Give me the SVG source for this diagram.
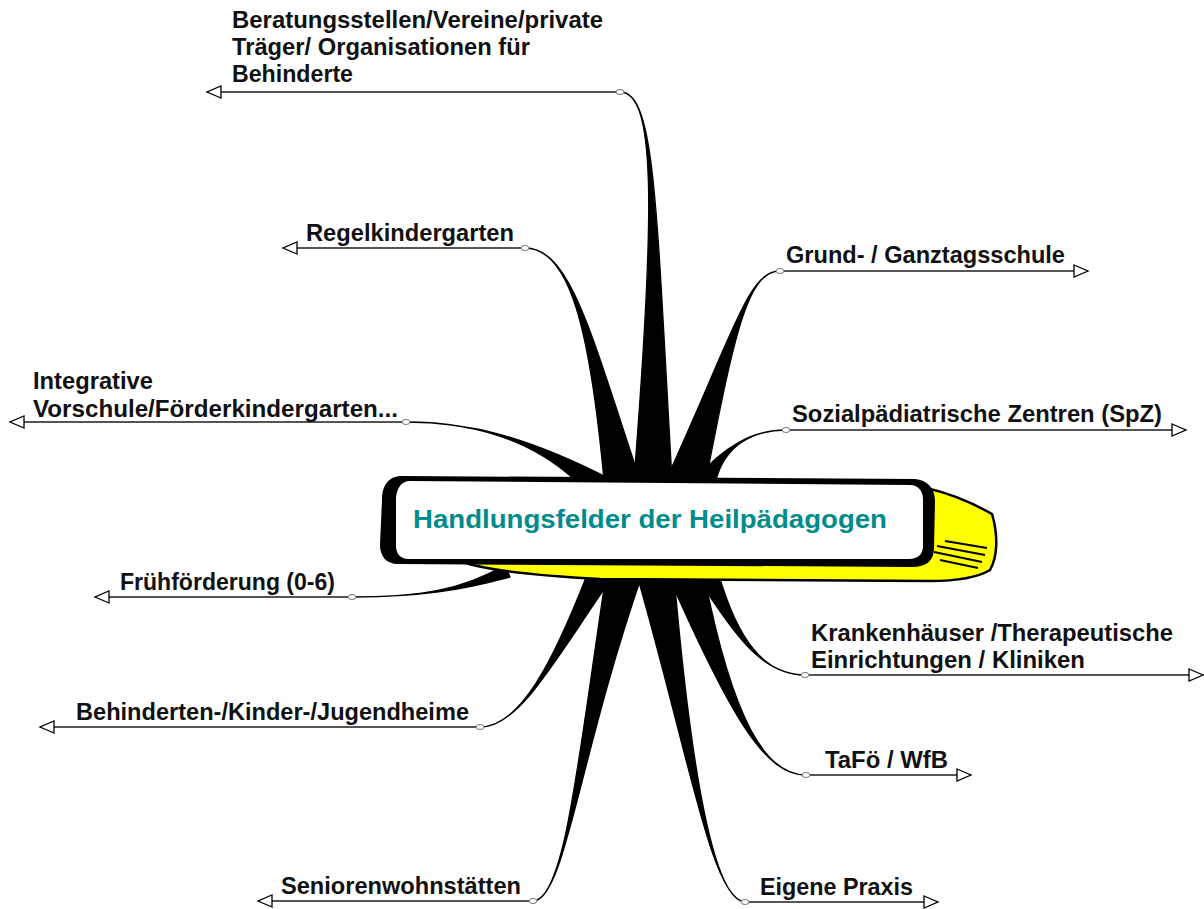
<svg xmlns="http://www.w3.org/2000/svg" width="1204" height="909" viewBox="0 0 1204 909">
<style>
.lbl{font-family:"Liberation Sans",Arial,sans-serif;font-size:23px;font-weight:bold;fill:#111}
.spoke{fill:#000;stroke:#000;stroke-width:1.3;stroke-linejoin:round}
.ln{stroke:#555;stroke-width:2;fill:none;marker-end:url(#arr)}
.anc{fill:#fff;stroke:#777;stroke-width:1}
.title{font-family:"Liberation Sans",Arial,sans-serif;font-size:26px;font-weight:bold;fill:#008c8c}
</style>
<defs>
<marker id="arr" markerUnits="userSpaceOnUse" markerWidth="18" markerHeight="16" refX="15" refY="7" orient="auto">
<path d="M1,1 L15,7 L1,13 Z" fill="#fff" stroke="#000" stroke-width="1.3"/>
</marker>
</defs>
<rect width="1204" height="909" fill="#fff"/>
<g id="connectors">
<path class="spoke" d="M620 92 C655 92 656 200 634 480 L672 480 C656 200 655 92 620 92 Z"/>
<path class="spoke" d="M525 248 C570 248 590 330 604 480 L640 480 C590 330 570 248 525 248 Z"/>
<path class="spoke" d="M406 422 C470 422 528 437 612 480 L575 480 C528 437 470 422 406 422 Z"/>
<path class="spoke" d="M352 597 C420 597 462 590 505 565 L510 577 C462 590 420 597 352 597 Z"/>
<path class="spoke" d="M480 727 C520 727 553 662 587 575 L614 575 C553 662 520 727 480 727 Z"/>
<path class="spoke" d="M533 901 C565 900 578 760 606 575 L642 575 C578 760 565 900 533 901 Z"/>
<path class="spoke" d="M745 902 C712 900 690 760 674 575 L637 575 C690 760 712 900 745 902 Z"/>
<path class="spoke" d="M806 775 C766 775 733 722 704 575 L668 575 C733 722 766 775 806 775 Z"/>
<path class="spoke" d="M805 675 C765 675 738 642 718 572 L696 575 C738 642 765 675 805 675 Z"/>
<path class="spoke" d="M780 271 C748 271 735 330 666 480 L706 480 C735 330 748 271 780 271 Z"/>
<path class="spoke" d="M786 430 C752 430 725 446 716 480 L694 480 C725 446 752 430 786 430 Z"/>
<line class="ln" x1="620" y1="92" x2="207" y2="92"/>
<line class="ln" x1="525" y1="248" x2="283" y2="248"/>
<line class="ln" x1="406" y1="422" x2="10" y2="422"/>
<line class="ln" x1="352" y1="597" x2="95" y2="597"/>
<line class="ln" x1="480" y1="727" x2="40" y2="727"/>
<line class="ln" x1="533" y1="901" x2="258" y2="901"/>
<line class="ln" x1="780" y1="271" x2="1088" y2="271"/>
<line class="ln" x1="786" y1="430" x2="1186" y2="430"/>
<line class="ln" x1="805" y1="675" x2="1203" y2="675"/>
<line class="ln" x1="806" y1="775" x2="971" y2="775"/>
<line class="ln" x1="745" y1="902" x2="938" y2="902"/>
<ellipse class="anc" cx="620" cy="92" rx="4" ry="2.5"/>
<ellipse class="anc" cx="525" cy="248" rx="4" ry="2.5"/>
<ellipse class="anc" cx="406" cy="422" rx="4" ry="2.5"/>
<ellipse class="anc" cx="352" cy="597" rx="4" ry="2.5"/>
<ellipse class="anc" cx="480" cy="727" rx="4" ry="2.5"/>
<ellipse class="anc" cx="533" cy="901" rx="4" ry="2.5"/>
<ellipse class="anc" cx="780" cy="271" rx="4" ry="2.5"/>
<ellipse class="anc" cx="786" cy="430" rx="4" ry="2.5"/>
<ellipse class="anc" cx="805" cy="675" rx="4" ry="2.5"/>
<ellipse class="anc" cx="806" cy="775" rx="4" ry="2.5"/>
<ellipse class="anc" cx="745" cy="902" rx="4" ry="2.5"/>
</g>
<g id="center">
<path d="M462 562 L926 560 L930 489 C952 494 976 505 992 514 C998 534 998 556 990 570 C975 579 950 581 930 581 L600 579 C540 576 490 571 462 562 Z" fill="#ffff00" stroke="#000" stroke-width="2.5"/>
<path d="M934 552 L982 562 M937 546 L985 555 M940 560 L978 568 M945 541 L987 548" stroke="#000" stroke-width="2"/>
<path d="M402 476 L915 479 C927 480 935 488 935 501 L934 548 C934 561 926 567 912 567 L398 564 C386 564 380 556 380 545 L382 500 C382 486 388 476 402 476 Z" fill="#000"/>
<path d="M410 481 L910 485 C918 485 923 491 923 499 L923 546 C923 554 918 559 909 559 L408 559 C401 559 396 554 396 546 L396 500 C396 489 401 481 410 481 Z" fill="#fff"/>
<text class="title" x="413" y="528" textLength="474" lengthAdjust="spacingAndGlyphs">Handlungsfelder der Heilpädagogen</text>
</g>
<g id="n-beratung">
<text class="lbl" x="232" y="28" textLength="371" lengthAdjust="spacingAndGlyphs">Beratungsstellen/Vereine/private</text>
<text class="lbl" x="232" y="55" textLength="298" lengthAdjust="spacingAndGlyphs">Träger/ Organisationen für</text>
<text class="lbl" x="232" y="82" textLength="121" lengthAdjust="spacingAndGlyphs">Behinderte</text>
</g>
<g id="n-regel"><text class="lbl" x="306" y="241" textLength="208" lengthAdjust="spacingAndGlyphs">Regelkindergarten</text></g>
<g id="n-integrativ">
<text class="lbl" x="33" y="389" textLength="120" lengthAdjust="spacingAndGlyphs">Integrative</text>
<text class="lbl" x="33" y="417" textLength="365" lengthAdjust="spacingAndGlyphs">Vorschule/Förderkindergarten...</text>
</g>
<g id="n-frueh"><text class="lbl" x="120" y="590" textLength="215" lengthAdjust="spacingAndGlyphs">Frühförderung (0-6)</text></g>
<g id="n-heime"><text class="lbl" x="76" y="720" textLength="393" lengthAdjust="spacingAndGlyphs">Behinderten-/Kinder-/Jugendheime</text></g>
<g id="n-senioren"><text class="lbl" x="281" y="894" textLength="240" lengthAdjust="spacingAndGlyphs">Seniorenwohnstätten</text></g>
<g id="n-grund"><text class="lbl" x="786" y="263" textLength="279" lengthAdjust="spacingAndGlyphs">Grund- / Ganztagsschule</text></g>
<g id="n-spz"><text class="lbl" x="792" y="422" textLength="370" lengthAdjust="spacingAndGlyphs">Sozialpädiatrische Zentren (SpZ)</text></g>
<g id="n-kranken">
<text class="lbl" x="811" y="641" textLength="362" lengthAdjust="spacingAndGlyphs">Krankenhäuser /Therapeutische</text>
<text class="lbl" x="811" y="668" textLength="274" lengthAdjust="spacingAndGlyphs">Einrichtungen / Kliniken</text>
</g>
<g id="n-tafoe"><text class="lbl" x="825" y="768" textLength="123" lengthAdjust="spacingAndGlyphs">TaFö / WfB</text></g>
<g id="n-praxis"><text class="lbl" x="760" y="895" textLength="153" lengthAdjust="spacingAndGlyphs">Eigene Praxis</text></g>
</svg>
